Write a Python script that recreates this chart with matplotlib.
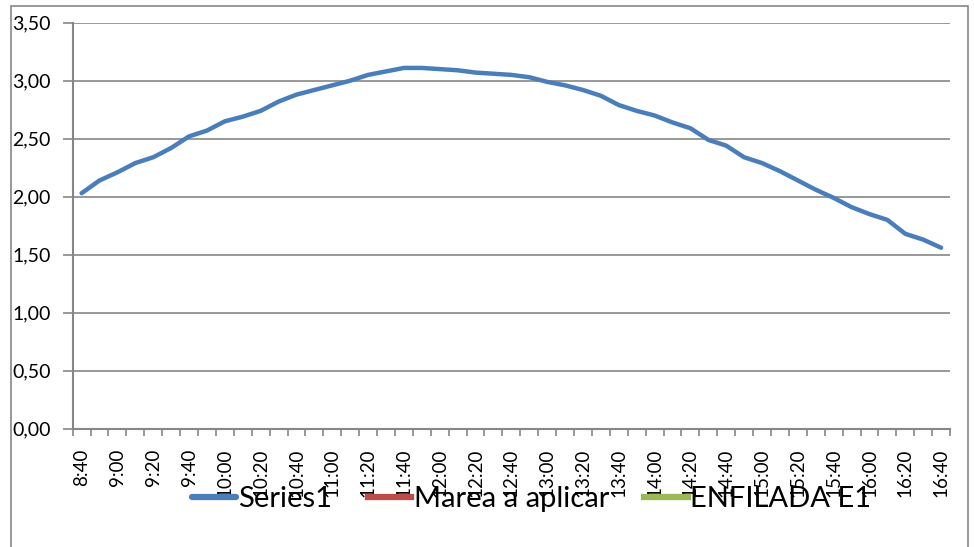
import matplotlib
matplotlib.use("Agg")
import matplotlib.pyplot as plt
from matplotlib.patches import Rectangle
from matplotlib.ticker import FixedLocator, FuncFormatter

plt.rcParams['font.family'] = ['Lato', 'DejaVu Sans']

# categories every 10 minutes, labels shown every 20 minutes
horas = ["8:40", "8:50", "9:00", "9:10", "9:20", "9:30", "9:40", "9:50",
         "10:00", "10:10", "10:20", "10:30", "10:40", "10:50", "11:00", "11:10",
         "11:20", "11:30", "11:40", "11:50", "12:00", "12:10", "12:20", "12:30",
         "12:40", "12:50", "13:00", "13:10", "13:20", "13:30", "13:40", "13:50",
         "14:00", "14:10", "14:20", "14:30", "14:40", "14:50", "15:00", "15:10",
         "15:20", "15:30", "15:40", "15:50", "16:00", "16:10", "16:20", "16:30",
         "16:40"]

series1 = [2.03, 2.14, 2.21, 2.29, 2.34, 2.42, 2.52, 2.57,
           2.65, 2.69, 2.74, 2.82, 2.88, 2.92, 2.96, 3.00,
           3.05, 3.08, 3.11, 3.11, 3.10, 3.09, 3.07, 3.06,
           3.05, 3.03, 2.99, 2.96, 2.92, 2.87, 2.79, 2.74,
           2.70, 2.64, 2.59, 2.49, 2.44, 2.34, 2.29, 2.22,
           2.14, 2.06, 1.99, 1.91, 1.85, 1.80, 1.68, 1.63,
           1.56]
marea_a_aplicar = []
enfilada_e1 = []

gris = "#868686"

fig = plt.figure(figsize=(9.74, 5.47), dpi=100)
ax = fig.add_axes([0.0746, 0.2163, 0.9008, 0.7422])

x = list(range(len(horas)))
ax.plot(x, series1, color="#4a7ebb", lw=3.2, label="Series1", solid_capstyle="round")
ax.plot(marea_a_aplicar, marea_a_aplicar, color="#be4b48", lw=3.2, label="Marea a aplicar")
ax.plot(enfilada_e1, enfilada_e1, color="#98b954", lw=3.2, label="ENFILADA E1")

ax.set_xlim(-0.5, len(horas) - 0.5)
ax.set_ylim(0, 3.5)
ax.set_yticks([0, 0.5, 1.0, 1.5, 2.0, 2.5, 3.0, 3.5])
ax.yaxis.set_major_formatter(FuncFormatter(lambda v, p: f"{v:.2f}".replace(".", ",")))
ax.yaxis.grid(True, color=gris, lw=1.2)
ax.set_axisbelow(True)

ax.xaxis.set_major_locator(FixedLocator(x[::2]))
ax.set_xticklabels(horas[::2], rotation=90, va="top", ha="center")
ax.xaxis.set_minor_locator(FixedLocator([i - 0.5 for i in range(len(horas) + 1)]))
ax.tick_params(axis="x", which="major", length=0, pad=14, labelsize=13.5)
ax.tick_params(axis="x", which="minor", length=5, color=gris, width=1.2)
ax.tick_params(axis="y", length=7, color=gris, width=1.2, pad=9, labelsize=14)

for s in ["top", "right"]:
    ax.spines[s].set_visible(False)
for s in ["left", "bottom"]:
    ax.spines[s].set_color(gris)
    ax.spines[s].set_linewidth(1.5)

leg = fig.legend(loc="center", bbox_to_anchor=(0.546, 1 - 499 / 547), ncol=3, frameon=False,
                 fontsize=21, handlelength=1.5, handletextpad=0.08, columnspacing=1.2,
                 borderaxespad=0)
for h in leg.legend_handles:
    h.set_linewidth(4.5)

fig.patches.append(Rectangle((11 / 974, -0.02), 957 / 974, 1.009, transform=fig.transFigure,
                             fill=False, edgecolor=gris, lw=1.2))

fig.savefig("out.png", dpi=100)
